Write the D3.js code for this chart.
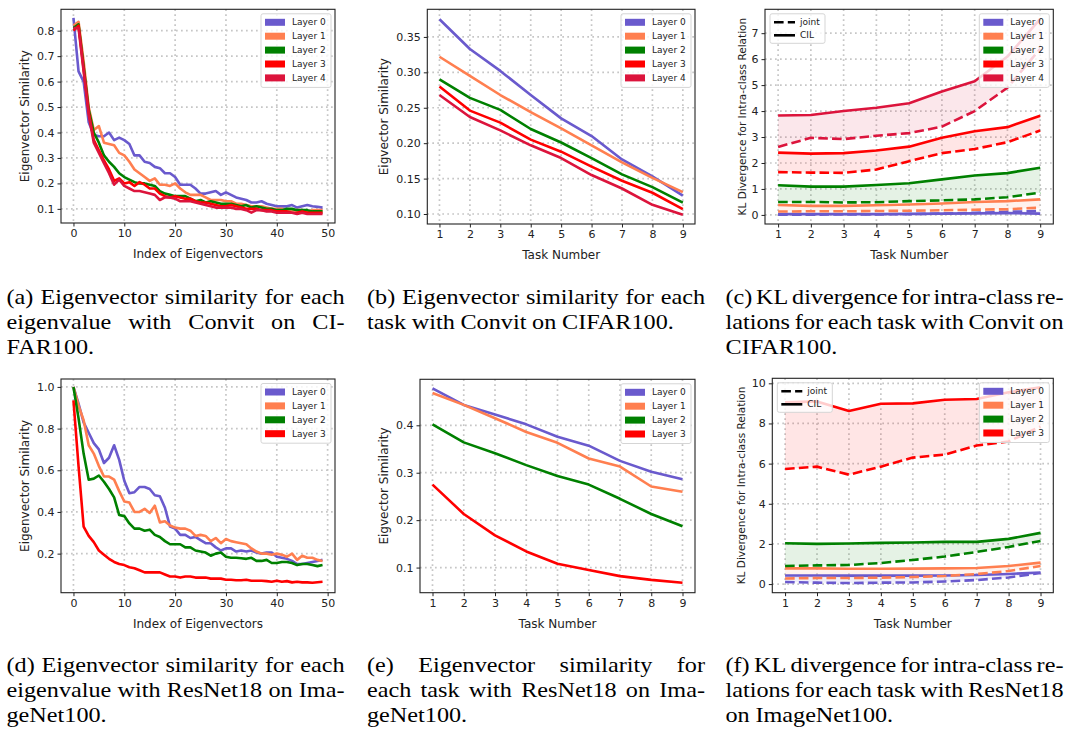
<!DOCTYPE html>
<html>
<head>
<meta charset="utf-8">
<script src="https://cdn.jsdelivr.net/npm/d3@7"></script>
<style>
  body { margin: 0; background: #fff; }
  svg { display: block; }
  .tick text { font-family: "DejaVu Sans", sans-serif; }
</style>
</head>
<body>
<svg id="fig" width="1070" height="735"></svg>
<script>
// layers
const layerNames = ["Layer 0", "Layer 1", "Layer 2", "Layer 3", "Layer 4"];
const layerColors = ["#6a5acd", "#ff7f50", "#008000", "#ff0000", "#dc143c"];
const tasks = [1, 2, 3, 4, 5, 6, 7, 8, 9];

// (a) eigenvector similarity per eigenvalue, Convit / CIFAR100
const simConvit = [
  [0.85, 0.64, 0.60, 0.44, 0.39, 0.385, 0.385, 0.40, 0.37, 0.38, 0.37, 0.355, 0.31, 0.31, 0.285, 0.28, 0.265, 0.26, 0.24, 0.24,
   0.225, 0.195, 0.195, 0.195, 0.18, 0.16, 0.16, 0.165, 0.17, 0.155, 0.165, 0.155, 0.145, 0.14, 0.135, 0.125, 0.125, 0.13, 0.12, 0.115,
   0.11, 0.11, 0.11, 0.115, 0.105, 0.11, 0.115, 0.11, 0.108, 0.105],
  [0.82, 0.835, 0.68, 0.50, 0.41, 0.425, 0.36, 0.355, 0.35, 0.32, 0.31, 0.285, 0.255, 0.24, 0.225, 0.21, 0.22, 0.195, 0.195, 0.19,
   0.20, 0.18, 0.165, 0.155, 0.155, 0.155, 0.145, 0.135, 0.135, 0.135, 0.13, 0.13, 0.12, 0.12, 0.115, 0.11, 0.11, 0.11, 0.105, 0.10,
   0.10, 0.10, 0.095, 0.095, 0.095, 0.095, 0.09, 0.095, 0.095, 0.095],
  [0.81, 0.825, 0.66, 0.49, 0.40, 0.36, 0.31, 0.285, 0.265, 0.24, 0.225, 0.215, 0.205, 0.20, 0.20, 0.195, 0.19, 0.17, 0.16, 0.155,
   0.15, 0.15, 0.15, 0.14, 0.13, 0.135, 0.125, 0.13, 0.125, 0.12, 0.12, 0.12, 0.115, 0.11, 0.115, 0.105, 0.11, 0.105, 0.10, 0.10,
   0.095, 0.095, 0.10, 0.10, 0.095, 0.095, 0.095, 0.09, 0.09, 0.09],
  [0.80, 0.82, 0.65, 0.48, 0.37, 0.33, 0.29, 0.255, 0.21, 0.22, 0.20, 0.205, 0.19, 0.205, 0.195, 0.18, 0.18, 0.16, 0.15, 0.145,
   0.15, 0.145, 0.14, 0.14, 0.13, 0.125, 0.125, 0.12, 0.115, 0.11, 0.11, 0.115, 0.11, 0.105, 0.10, 0.10, 0.10, 0.095, 0.095, 0.095,
   0.09, 0.09, 0.09, 0.085, 0.085, 0.09, 0.085, 0.085, 0.085, 0.085],
  [0.81, 0.81, 0.64, 0.47, 0.36, 0.32, 0.28, 0.24, 0.195, 0.215, 0.19, 0.18, 0.17, 0.17, 0.165, 0.16, 0.155, 0.135, 0.145, 0.145,
   0.14, 0.13, 0.13, 0.13, 0.125, 0.12, 0.115, 0.11, 0.105, 0.105, 0.105, 0.105, 0.10, 0.10, 0.095, 0.085, 0.095, 0.095, 0.09, 0.09,
   0.085, 0.085, 0.085, 0.085, 0.08, 0.085, 0.08, 0.08, 0.08, 0.08]
];

// (b) eigenvector similarity per task, Convit / CIFAR100
const taskSimConvit = [
  [0.375, 0.333, 0.302, 0.268, 0.235, 0.210, 0.177, 0.153, 0.126],
  [0.322, 0.295, 0.268, 0.244, 0.221, 0.197, 0.173, 0.151, 0.131],
  [0.290, 0.264, 0.247, 0.220, 0.201, 0.179, 0.156, 0.138, 0.116],
  [0.280, 0.246, 0.229, 0.205, 0.188, 0.167, 0.147, 0.130, 0.107],
  [0.268, 0.237, 0.218, 0.197, 0.179, 0.155, 0.136, 0.113, 0.099]
];

// (c) KL divergence, Convit / CIFAR100
const klConvitCIL = [
  [0.03, 0.03, 0.03, 0.03, 0.04, 0.05, 0.06, 0.07, 0.05],
  [0.38, 0.35, 0.35, 0.37, 0.40, 0.44, 0.50, 0.53, 0.60],
  [1.14, 1.09, 1.09, 1.15, 1.22, 1.37, 1.52, 1.61, 1.82],
  [2.40, 2.36, 2.38, 2.48, 2.63, 2.97, 3.22, 3.38, 3.82],
  [3.83, 3.85, 4.00, 4.13, 4.30, 4.75, 5.15, 6.10, 7.55]
];
const klConvitJoint = [
  [0.01, 0.01, 0.02, 0.02, 0.03, 0.05, 0.08, 0.12, 0.15],
  [0.13, 0.14, 0.14, 0.15, 0.16, 0.18, 0.20, 0.22, 0.28],
  [0.50, 0.50, 0.48, 0.49, 0.53, 0.56, 0.60, 0.68, 0.86],
  [1.65, 1.63, 1.62, 1.75, 2.07, 2.38, 2.54, 2.80, 3.25],
  [2.62, 2.97, 2.92, 3.05, 3.15, 3.40, 4.00, 4.90, 6.40]
];

// (d) eigenvector similarity per eigenvalue, ResNet18 / ImageNet100
const simResnet = [
  [1.0, 0.92, 0.83, 0.78, 0.73, 0.70, 0.635, 0.66, 0.72, 0.65, 0.55, 0.49, 0.495, 0.52, 0.52, 0.51, 0.48, 0.475, 0.42, 0.33,
   0.32, 0.29, 0.29, 0.275, 0.28, 0.265, 0.25, 0.25, 0.23, 0.215, 0.225, 0.225, 0.21, 0.215, 0.21, 0.215, 0.205, 0.20, 0.205, 0.205,
   0.185, 0.18, 0.175, 0.165, 0.15, 0.15, 0.155, 0.16, 0.165, 0.17],
  [1.0, 0.91, 0.84, 0.72, 0.68, 0.62, 0.57, 0.57, 0.555, 0.50, 0.45, 0.445, 0.40, 0.40, 0.415, 0.395, 0.43, 0.35, 0.355, 0.335,
   0.325, 0.32, 0.32, 0.31, 0.285, 0.29, 0.285, 0.26, 0.275, 0.25, 0.27, 0.26, 0.255, 0.25, 0.245, 0.225, 0.21, 0.20, 0.20, 0.195,
   0.20, 0.195, 0.185, 0.20, 0.17, 0.19, 0.18, 0.18, 0.17, 0.165],
  [1.0, 0.85, 0.68, 0.555, 0.56, 0.575, 0.545, 0.51, 0.47, 0.385, 0.38, 0.345, 0.32, 0.32, 0.31, 0.315, 0.29, 0.28, 0.26, 0.245,
   0.245, 0.245, 0.23, 0.23, 0.215, 0.21, 0.205, 0.19, 0.20, 0.205, 0.185, 0.18, 0.18, 0.178, 0.175, 0.18, 0.165, 0.165, 0.17, 0.155,
   0.155, 0.16, 0.16, 0.155, 0.145, 0.15, 0.15, 0.145, 0.14, 0.145],
  [0.935, 0.62, 0.33, 0.285, 0.255, 0.215, 0.195, 0.175, 0.16, 0.15, 0.145, 0.135, 0.13, 0.12, 0.11, 0.11, 0.11, 0.11, 0.10, 0.09,
   0.09, 0.085, 0.09, 0.09, 0.085, 0.085, 0.085, 0.08, 0.08, 0.08, 0.075, 0.075, 0.072, 0.072, 0.075, 0.07, 0.07, 0.07, 0.068, 0.065,
   0.07, 0.065, 0.068, 0.062, 0.065, 0.062, 0.062, 0.06, 0.063, 0.065]
];

// (e) eigenvector similarity per task, ResNet18 / ImageNet100
const taskSimResnet = [
  [0.478, 0.443, 0.423, 0.402, 0.376, 0.357, 0.325, 0.302, 0.286],
  [0.468, 0.443, 0.415, 0.386, 0.363, 0.330, 0.313, 0.271, 0.260],
  [0.402, 0.364, 0.341, 0.316, 0.293, 0.275, 0.245, 0.213, 0.187],
  [0.275, 0.213, 0.168, 0.134, 0.108, 0.095, 0.082, 0.074, 0.068]
];

// (f) KL divergence, ResNet18 / ImageNet100
const klResnetCIL = [
  [0.43, 0.43, 0.42, 0.42, 0.42, 0.43, 0.45, 0.50, 0.58],
  [0.78, 0.78, 0.76, 0.76, 0.77, 0.78, 0.80, 0.90, 1.07],
  [2.03, 2.00, 2.02, 2.05, 2.07, 2.10, 2.10, 2.25, 2.55],
  [9.05, 9.10, 8.62, 8.98, 9.00, 9.18, 9.22, 9.55, 9.80]
];
const klResnetJoint = [
  [0.10, 0.07, 0.05, 0.07, 0.08, 0.13, 0.20, 0.33, 0.55],
  [0.28, 0.30, 0.30, 0.32, 0.35, 0.40, 0.50, 0.65, 0.90],
  [0.90, 0.93, 0.95, 1.05, 1.20, 1.37, 1.60, 1.85, 2.15],
  [5.73, 5.85, 5.45, 5.85, 6.30, 6.45, 6.90, 7.10, 7.85]
];

const captions = [
  ["(a) Eigenvector similarity for each", "eigenvalue with Convit on CI-", "FAR100."],
  ["(b) Eigenvector similarity for each", "task with Convit on CIFAR100."],
  ["(c) KL divergence for intra-class re-", "lations for each task with Convit on", "CIFAR100."],
  ["(d) Eigenvector similarity for each", "eigenvalue with ResNet18 on Ima-", "geNet100."],
  ["(e) Eigenvector similarity for", "each task with ResNet18 on Ima-", "geNet100."],
  ["(f) KL divergence for intra-class re-", "lations for each task with ResNet18", "on ImageNet100."]
];

const svg = d3.select("#fig");
const LW = 2.6;

function drawPanel(cfg) {
  const [l, t, r, b] = cfg.box;
  const x = d3.scaleLinear().domain(cfg.xDomain).range([l, r]);
  const y = d3.scaleLinear().domain(cfg.yDomain).range([b, t]);
  const g = svg.append("g");

  // grid
  const grid = g.append("g").attr("stroke", "#c6c6c6").attr("stroke-width", 1.7)
    .attr("stroke-dasharray", "1.7,3.3");
  grid.selectAll(".gx").data(cfg.xTicks).join("line")
    .attr("x1", d => x(d)).attr("x2", d => x(d)).attr("y1", t).attr("y2", b);
  grid.selectAll(".gy").data(cfg.yTicks).join("line")
    .attr("y1", d => y(d)).attr("y2", d => y(d)).attr("x1", l).attr("x2", r);

  const clip = "clip" + Math.round(l) + "_" + Math.round(t);
  g.append("clipPath").attr("id", clip).append("rect")
    .attr("x", l).attr("y", t).attr("width", r - l).attr("height", b - t);
  const plot = g.append("g").attr("clip-path", `url(#${clip})`);

  const line = d3.line().x(d => x(d[0])).y(d => y(d[1]));

  (cfg.fills || []).forEach(f => {
    const area = d3.area().x((d, i) => x(f.xs[i])).y0(d => y(d[0])).y1(d => y(d[1]));
    plot.append("path")
      .datum(f.lo.map((v, i) => [v, f.hi[i]]))
      .attr("d", area)
      .attr("fill", f.color).attr("fill-opacity", 0.1);
  });

  cfg.series.forEach(s => {
    plot.append("path")
      .datum(s.values.map((v, i) => [s.xs ? s.xs[i] : i, v]))
      .attr("d", line)
      .attr("fill", "none")
      .attr("stroke", s.color)
      .attr("stroke-width", LW)
      .attr("stroke-linejoin", "round")
      .attr("stroke-dasharray", s.dashed ? "9.6,4.2" : null);
  });

  // axes
  const xAxis = d3.axisBottom(x).tickValues(cfg.xTicks).tickSize(3.5).tickPadding(3);
  const yAxis = d3.axisLeft(y).tickValues(cfg.yTicks).tickSize(3.5).tickPadding(3)
    .tickFormat(cfg.yFmt);
  const ax = g.append("g").attr("transform", `translate(0,${b})`).call(xAxis);
  const ay = g.append("g").attr("transform", `translate(${l},0)`).call(yAxis);
  [ax, ay].forEach(a => {
    a.select(".domain").remove();
    a.selectAll(".tick line").attr("stroke", "#222").attr("stroke-width", 1);
    a.selectAll(".tick text").attr("fill", "#222").style("font-size", "11px");
  });
  g.append("rect").attr("x", l).attr("y", t).attr("width", r - l).attr("height", b - t)
    .attr("fill", "none").attr("stroke", "#222").attr("stroke-width", 1.1);

  g.append("text").attr("x", (l + r) / 2).attr("y", b + 35)
    .attr("text-anchor", "middle").attr("font-family", "DejaVu Sans").attr("font-size", 12)
    .attr("fill", "#222").text(cfg.xLabel);
  g.append("text")
    .attr("transform", `translate(${cfg.yLabelX},${(t + b) / 2}) rotate(-90)`)
    .attr("text-anchor", "middle").attr("dominant-baseline", "central")
    .attr("font-family", "DejaVu Sans").attr("font-size", cfg.yLabelSize || 12)
    .attr("fill", "#222").text(cfg.yLabel);

  // layer legend (upper right)
  const n = cfg.series.filter(s => !s.dashed).length;
  const lw = 70, lh = 14 + 13.9 * (n - 1) + 4;
  const lx = r - 4 - lw, ly = t + 4.5;
  const leg = g.append("g");
  leg.append("rect").attr("x", lx).attr("y", ly).attr("width", lw).attr("height", lh)
    .attr("rx", 2).attr("fill", "#fff").attr("fill-opacity", 0.8)
    .attr("stroke", "#d5d5d5").attr("stroke-width", 1);
  layerNames.slice(0, n).forEach((name, i) => {
    const cy = ly + 8.5 + i * 13.9;
    leg.append("rect").attr("x", lx + 4).attr("y", cy - 3.5).attr("width", 20).attr("height", 7)
      .attr("fill", layerColors[i]);
    leg.append("text").attr("x", lx + 31).attr("y", cy).attr("dominant-baseline", "central")
      .attr("font-family", "DejaVu Sans").attr("font-size", 9).attr("fill", "#222").text(name);
  });

  if (cfg.styleLegend) {
    const sx = l + 5, sy = t + 4.5;
    const sl = g.append("g");
    sl.append("rect").attr("x", sx).attr("y", sy).attr("width", 55).attr("height", 29.5)
      .attr("rx", 2).attr("fill", "#fff").attr("fill-opacity", 0.8)
      .attr("stroke", "#d5d5d5").attr("stroke-width", 1);
    ["joint", "CIL"].forEach((lab, i) => {
      const cy = sy + 8.5 + i * 13;
      sl.append("line").attr("x1", sx + 4).attr("x2", sx + 25).attr("y1", cy).attr("y2", cy)
        .attr("stroke", "#000").attr("stroke-width", LW)
        .attr("stroke-dasharray", i === 0 ? "9.6,4.2" : null);
      sl.append("text").attr("x", sx + 30).attr("y", cy).attr("dominant-baseline", "central")
        .attr("font-family", "DejaVu Sans").attr("font-size", 9).attr("fill", "#222").text(lab);
    });
  }
}

function klSeries(cil, joint) {
  const out = [];
  cil.forEach((v, i) => {
    out.push({ values: v, xs: tasks, color: layerColors[i] });
    out.push({ values: joint[i], xs: tasks, color: layerColors[i], dashed: true });
  });
  return out;
}
function klFills(cil, joint) {
  return cil.map((v, i) => ({ lo: joint[i], hi: v, xs: tasks, color: layerColors[i] }));
}

const fmt1 = d3.format(".1f"), fmt2 = d3.format(".2f"), fmt0 = d3.format("d");
const eigTicks = [0, 10, 20, 30, 40, 50];

drawPanel({
  box: [61, 9.3, 335, 223], xDomain: [-2.45, 51.45], yDomain: [0.0445, 0.884],
  xTicks: eigTicks, yTicks: [0.1, 0.2, 0.3, 0.4, 0.5, 0.6, 0.7, 0.8], yFmt: fmt1,
  xLabel: "Index of Eigenvectors", yLabel: "Eigenvector Similarity", yLabelX: 25,
  series: simConvit.map((v, i) => ({ values: v, color: layerColors[i] }))
});
drawPanel({
  box: [427.3, 9.3, 695, 224], xDomain: [0.6, 9.4], yDomain: [0.0859, 0.389],
  xTicks: tasks, yTicks: [0.10, 0.15, 0.20, 0.25, 0.30, 0.35], yFmt: fmt2,
  xLabel: "Task Number", yLabel: "Eigvector Similarity", yLabelX: 384,
  series: taskSimConvit.map((v, i) => ({ values: v, xs: tasks, color: layerColors[i] }))
});
drawPanel({
  box: [765, 9.3, 1053.3, 224], xDomain: [0.6, 9.4], yDomain: [-0.35, 7.92],
  xTicks: tasks, yTicks: [0, 1, 2, 3, 4, 5, 6, 7], yFmt: fmt0,
  xLabel: "Task Number", yLabel: "KL Divergence for Intra-class Relation", yLabelX: 742, yLabelSize: 10.5,
  fills: klFills(klConvitCIL, klConvitJoint), series: klSeries(klConvitCIL, klConvitJoint),
  styleLegend: true
});
drawPanel({
  box: [61, 379, 335, 592.7], xDomain: [-2.45, 51.45], yDomain: [0.0125, 1.038],
  xTicks: eigTicks, yTicks: [0.2, 0.4, 0.6, 0.8, 1.0], yFmt: fmt1,
  xLabel: "Index of Eigenvectors", yLabel: "Eigenvector Similarity", yLabelX: 25,
  series: simResnet.map((v, i) => ({ values: v, color: layerColors[i] }))
});
drawPanel({
  box: [420, 379.3, 695, 592.7], xDomain: [0.6, 9.4], yDomain: [0.047, 0.497],
  xTicks: tasks, yTicks: [0.1, 0.2, 0.3, 0.4], yFmt: fmt1,
  xLabel: "Task Number", yLabel: "Eigvector Similarity", yLabelX: 384,
  series: taskSimResnet.map((v, i) => ({ values: v, xs: tasks, color: layerColors[i] }))
});
drawPanel({
  box: [772.3, 378.3, 1053.3, 592.7], xDomain: [0.6, 9.4], yDomain: [-0.43, 10.25],
  xTicks: tasks, yTicks: [0, 2, 4, 6, 8, 10], yFmt: fmt0,
  xLabel: "Task Number", yLabel: "KL Divergence for Intra-class Relation", yLabelX: 741, yLabelSize: 10.5,
  fills: klFills(klResnetCIL, klResnetJoint), series: klSeries(klResnetCIL, klResnetJoint),
  styleLegend: true
});

// captions, justified like the paper
const capCols = [6.5, 367, 725.5];
const capWidth = 338;
const capRows = [304, 672];
const capStretch = 1.1;
function caption(x0, y0, lines) {
  const g = svg.append("g").attr("font-family", "Liberation Serif, Times New Roman, serif")
    .attr("font-size", 22).attr("fill", "#000");
  lines.forEach((ln, i) => {
    const yy = y0 + i * 25;
    const words = ln.split(" ");
    const nodes = words.map(w => g.append("text").attr("y", yy).text(w));
    const widths = nodes.map(n => n.node().getComputedTextLength() * capStretch);
    nodes.forEach((n, k) => n.attr("textLength", widths[k]).attr("lengthAdjust", "spacingAndGlyphs"));
    const last = i === lines.length - 1;
    const gap = last ? 5.2 * capStretch : (capWidth - d3.sum(widths)) / (words.length - 1);
    let cx = x0;
    nodes.forEach((n, k) => { n.attr("x", cx); cx += widths[k] + gap; });
  });
}
captions.forEach((c, i) => caption(capCols[i % 3], capRows[Math.floor(i / 3)], c));
</script>
</body>
</html>
